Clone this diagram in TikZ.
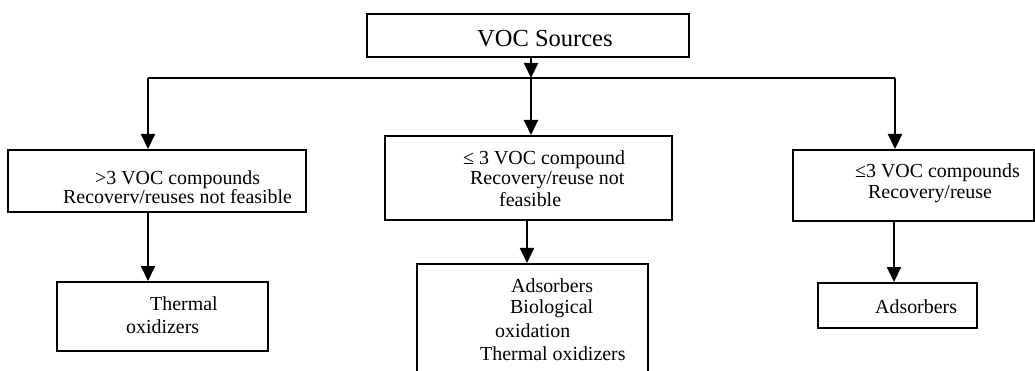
\documentclass[tikz,border=0pt]{standalone}
\usepackage{fontspec}
\setmainfont{Liberation Serif}
\usetikzlibrary{arrows.meta}
\begin{document}
\begin{tikzpicture}[x=1pt,y=-1pt,
  box/.style={draw,line width=2pt,rectangle,inner sep=0pt},
  arr/.style={line width=2pt,-{Triangle[length=15pt,width=14pt]}},
  ln/.style={line width=2pt},
  txt/.style={anchor=base west,inner sep=0pt,font=\fontsize{19.9}{20}\selectfont},
  ttl/.style={anchor=base west,inner sep=0pt,font=\fontsize{24.5}{26}\selectfont}]
\useasboundingbox (0,0) rectangle (1035,371);
% boxes
\node[box,minimum width=322pt,minimum height=43pt] (top) at (528,35.5) {};
\node[box,minimum width=298pt,minimum height=62pt] (b1) at (157,181) {};
\node[box,minimum width=287pt,minimum height=84pt] (b2) at (528.5,178) {};
\node[box,minimum width=241pt,minimum height=71pt] (b3) at (913.5,185.5) {};
\node[box,minimum width=211pt,minimum height=69pt] (c1) at (162.5,316.5) {};
\node[box,minimum width=231pt,minimum height=120pt] (c2) at (532.5,324) {};
\node[box,minimum width=159pt,minimum height=45pt] (c3) at (897.5,305.5) {};
% texts
\node[ttl] (t0) at (477,47) {VOC Sources};
\node[txt] (t1a) at (95,185) {>3 VOC compounds};
\node[txt] (t1b) at (63,204) {Recoverv/reuses not feasible};
\node[txt] (t2a) at (463,165) {≤ 3 VOC compound};
\node[txt] (t2b) at (470,185) {Recovery/reuse not};
\node[txt] (t2c) at (499,207) {feasible};
\node[txt] (t3a) at (855,178) {≤3 VOC compounds};
\node[txt] (t3b) at (868,199) {Recovery/reuse};
\node[txt] (u1a) at (150,310) {Thermal};
\node[txt] (u1b) at (126,333) {oxidizers};
\node[txt] (u2a) at (511,292) {Adsorbers};
\node[txt] (u2b) at (510,313) {Biological};
\node[txt] (u2c) at (495,337) {oxidation};
\node[txt] (u2d) at (480,360) {Thermal oxidizers};
\node[txt] (u3a) at (875,313) {Adsorbers};
% connector coordinates
\coordinate (split) at (531,78);
\coordinate (lx) at (148,78);
\coordinate (rx) at (895,78);
\coordinate (mx) at (531,78);
\coordinate (d1) at (148,0);
\coordinate (d2) at (527,0);
\coordinate (d3) at (894,0);
% connectors
\draw[arr] (split |- top.south) -- (split);
\draw[ln] (lx) -- (rx);
\draw[arr] (lx) -- (lx |- b1.north);
\draw[arr] (mx) -- (mx |- b2.north);
\draw[arr] (rx) -- (rx |- b3.north);
\draw[arr] (d1 |- b1.south) -- (d1 |- c1.north);
\draw[arr] (d2 |- b2.south) -- (d2 |- c2.north);
\draw[arr] (d3 |- b3.south) -- (d3 |- c3.north);
\end{tikzpicture}
\end{document}
